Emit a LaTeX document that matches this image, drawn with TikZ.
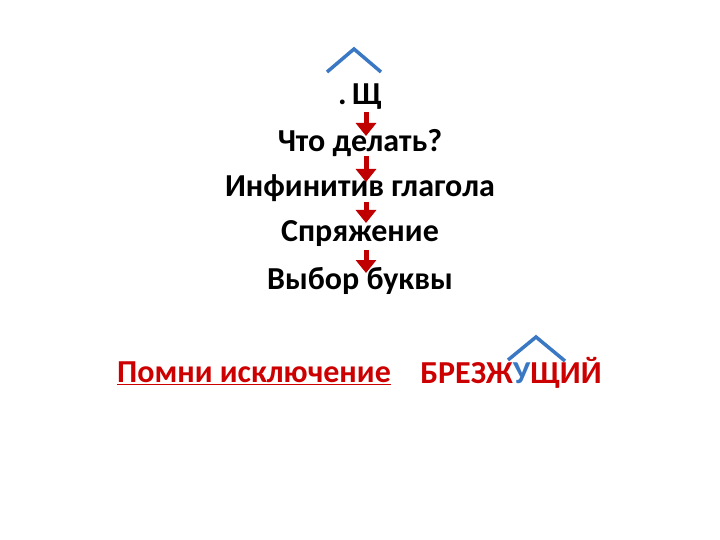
\documentclass[tikz,border=0pt]{standalone}
\usepackage{fontspec}
\setmainfont{Carlito}
\usetikzlibrary{arrows.meta}
\definecolor{roofblue}{RGB}{58,120,196}
\definecolor{wordred}{RGB}{204,0,0}
\definecolor{arrowred}{RGB}{192,0,0}
\tikzset{
  line/.style={font=\bfseries\fontsize{32}{36}\selectfont, inner sep=0pt},
  roof/.style={draw=roofblue, line width=3.5pt},
  down/.style={draw=arrowred, line width=5pt, -{Triangle[width=20pt,length=13pt]}}
}
\begin{document}
\begin{tikzpicture}[x=1pt,y=-1pt]
      \useasboundingbox (0,0) rectangle (720,540);

      \begin{scope}[every node/.style={line}]
        \node (q)  at (360,97)  {.\,Щ};
        \node (w)  at (360,143) {Что делать?};
        \node (i)  at (360,188) {Инфинитив глагола};
        \node (s)  at (360,234) {Спряжение};
        \node (v)  at (360,281) {Выбор буквы};
        \node[text=wordred] (p) at (254,373) {\underline{Помни исключение}};
        \node[text=wordred] (b) at (511,373) {БРЕЗЖ\textcolor{roofblue}{У}ЩИЙ};
      \end{scope}

      % roofs
      \coordinate (r1) at (327,72);
      \coordinate (r2) at (354,49);
      \coordinate (r3) at (381,72);
      \draw[roof] (r1) -- (r2) -- (r3);
      \coordinate (u1) at (508,360);
      \coordinate (u2) at (536,337);
      \coordinate (u3) at (565,361);
      \draw[roof] (u1) -- (u2) -- (u3);

      % arrows
      \coordinate (a1) at (366,112); \coordinate (a2) at (366,136);
      \coordinate (b1) at (366,156); \coordinate (b2) at (366,182);
      \coordinate (c1) at (366,202); \coordinate (c2) at (366,223);
      \coordinate (d1) at (366,250); \coordinate (d2) at (366,273);
      \path[down] (a1) -- (a2);
      \path[down] (b1) -- (b2);
      \path[down] (c1) -- (c2);
      \path[down] (d1) -- (d2);

\end{tikzpicture}
\end{document}
